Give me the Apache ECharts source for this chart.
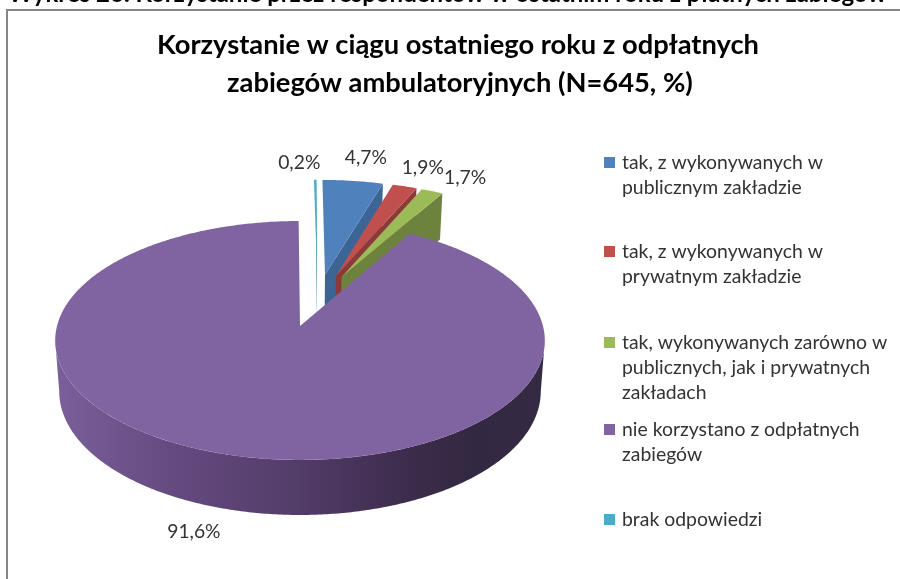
<!DOCTYPE html>
<html><head><meta charset="utf-8">
<style>html,body{margin:0;padding:0;background:#fff;overflow:hidden}#c{width:900px;height:579px}</style>
<script src="https://cdn.jsdelivr.net/npm/echarts@6/dist/echarts.min.js"></script>
</head><body><div id="c"></div>
<script>
const heading = 'Wykres 26. Korzystanie przez respondentów w ostatnim roku z płatnych zabiegów';
const titleLines = 'Korzystanie w ciągu ostatniego roku z odpłatnych\nzabiegów ambulatoryjnych (N=645, %)';
const categories = [
  'tak, z wykonywanych w\npublicznym zakładzie',
  'tak, z wykonywanych w\nprywatnym zakładzie',
  'tak, wykonywanych zarówno w\npublicznych, jak i prywatnych\nzakładach',
  'nie korzystano z odpłatnych\nzabiegów',
  'brak odpowiedzi'
];
const values = [4.7, 1.9, 1.7, 91.6, 0.2];
const valueLabels = ['4,7%', '1,9%', '1,7%', '91,6%', '0,2%'];
const topColors = ['#4f81bd', '#c0504d', '#9bbb59', '#8064a2', '#4bacc6'];
const wallColors = ['#3c6595', '#8c3a38', '#6d833d', '#5a4570', '#17657a'];

const chart = echarts.init(document.getElementById('c'), null, {renderer: 'canvas'});
const spans = values.map(v => v / 100 * Math.PI * 2);
const starts = spans.map((_, i) => spans.slice(0, i).reduce((a, b) => a + b, 0));

// perspective plane → screen
const P = 0.121;
const top_ = (u, v) => { const s = 1 + P * v; return [300 + 243 * u / s, 326 - 117.7 * v / s]; };
const bot_ = (u, v) => { const s = 1 + P * v; return [300 + 239 * u / s, 376.5 - 121.7 * v / s]; };
const CENTER = [0.074, 0.2276], EXPLODE = 0.235, ANCHORED = 3;
const dir = t => [Math.sin(t), Math.cos(t)];
const apexOf = i => {
  if (i === ANCHORED) return [0, 0];
  const d = dir(starts[i] + spans[i] / 2);
  return [CENTER[0] + EXPLODE * d[0], CENTER[1] + EXPLODE * d[1]];
};
const arc = (i, a0, a1, fn) => {
  const ap = apexOf(i), pts = [], n = Math.max(2, Math.ceil(Math.abs(a1 - a0) / 0.01));
  for (let k = 0; k <= n; k++) {
    const d = dir(a0 + (a1 - a0) * k / n);
    pts.push(fn(ap[0] + d[0], ap[1] + d[1]));
  }
  return pts;
};
const labelNudge = [[13, -23], [18, -19], [33, -13], [-36, 77], [-16, -17]];
const drawOrder = [4, 0, 1, 2, 3];

function renderItem(params, api) {
  const i = api.value(0), ap = apexOf(i), a0 = starts[i], a1 = a0 + spans[i];
  const z = drawOrder.indexOf(i) * 10 + 1;
  const children = [];
  if (i === 3) {
    const lo = Math.PI * 0.539, hi = Math.PI * 1.461;
    const pts = arc(i, lo, hi, top_).concat(arc(i, hi, lo, bot_));
    children.push({type: 'polygon', z2: z, shape: {points: pts}, style: {
      fill: new echarts.graphic.LinearGradient(0, 0, 1, 0, [
        {offset: 0, color: '#7b5f9a'}, {offset: 0.25, color: '#64497f'},
        {offset: 0.5, color: '#523c68'}, {offset: 0.72, color: '#3d2c4c'},
        {offset: 0.85, color: '#332842'}, {offset: 1, color: '#352a44'}
      ])
    }});
  } else {
    const e = dir(a1), c = [ap[0] + e[0], ap[1] + e[1]];
    children.push({type: 'polygon', z2: z, shape: {points: [
      top_(ap[0], ap[1]), top_(c[0], c[1]), bot_(c[0], c[1]), bot_(ap[0], ap[1])
    ]}, style: {fill: wallColors[i]}});
  }
  const pts = [top_(ap[0], ap[1])].concat(arc(i, a0, a1, top_));
  children.push({type: 'polygon', z2: z + 1, shape: {points: pts}, style: {fill: topColors[i]}});
  const d = dir(a0 + spans[i] / 2), lp = top_(ap[0] + d[0], ap[1] + d[1]), nd = labelNudge[i];
  children.push({type: 'text', z2: 200, x: lp[0] + nd[0], y: lp[1] + nd[1], style: {
    text: valueLabels[i], font: '19.3px Lato', fill: '#333', align: 'center', verticalAlign: 'middle'
  }});
  return {type: 'group', children};
}

const legendRows = [163, 252, 343, 430, 520];
const legendGraphics = [];
categories.forEach((c, i) => {
  legendGraphics.push({type: 'rect', left: 604, top: legendRows[i] - 6, shape: {width: 11, height: 11}, style: {fill: topColors[i]}});
  legendGraphics.push({type: 'text', left: 622, top: legendRows[i] - 13, style: {
    text: c, font: '19.4px Lato', lineHeight: 25.2, fill: '#333'
  }});
});

chart.setOption({
  animation: false,
  backgroundColor: '#fff',
  graphic: [
    {type: 'rect', left: 6, top: 9, shape: {width: 1000, height: 1000}, style: {fill: '#fff', stroke: '#868686', lineWidth: 2}, z: -1},
    {type: 'text', left: 8, top: -18, style: {text: heading, font: 'bold 24px Lato', fill: '#000'}},
    {type: 'text', left: 157, top: 32, style: {text: titleLines.split('\n')[0], font: 'bold 27.3px Lato', fill: '#000'}},
    {type: 'text', left: 227, top: 70, style: {text: titleLines.split('\n')[1], font: 'bold 27.3px Lato', fill: '#000'}}
  ].concat(legendGraphics),
  series: [{
    type: 'custom', coordinateSystem: 'none', renderItem,
    data: drawOrder.map(i => [i, values[i]]), silent: true
  }]
});
</script></body></html>
